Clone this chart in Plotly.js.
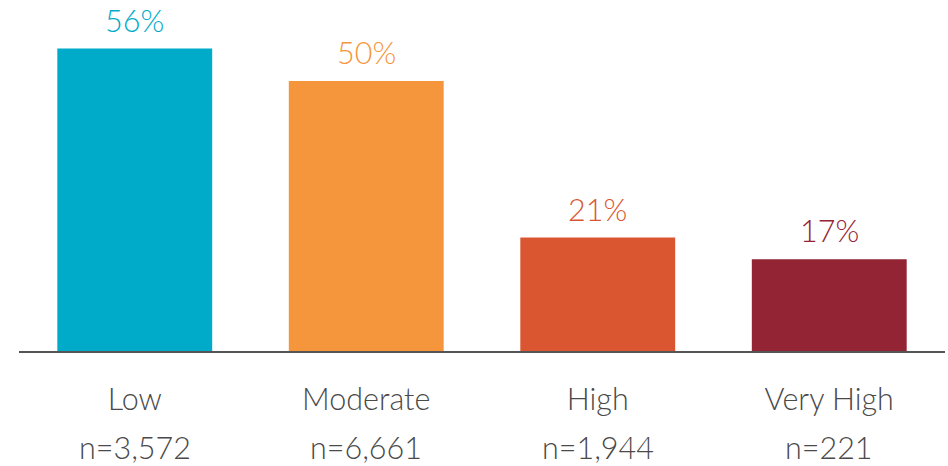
<!DOCTYPE html>
<html>
<head>
<meta charset="utf-8">
<script src="https://cdn.plot.ly/plotly-3.0.1.min.js"></script>
<style>html,body{margin:0;padding:0;background:#fff;}#chart{width:948px;height:466px;}</style>
</head>
<body>
<div id="chart"></div>
<script>
const categories = ["Low", "Moderate", "High", "Very High"];
const values = [56, 50, 21, 17];
const counts = ["n=3,572", "n=6,661", "n=1,944", "n=221"];
const colors = ["#00ABC9", "#F5963D", "#DA5631", "#922433"];

const FONT = "Lato, 'Open Sans', sans-serif";

const trace = {
  type: "bar",
  x: categories,
  y: values,
  marker: { color: colors },
  hoverinfo: "skip"
};

const annotations = [];
categories.forEach((c, i) => {
  annotations.push({
    x: c, y: values[i], xref: "x", yref: "y",
    text: values[i] + "%",
    showarrow: false, yanchor: "bottom", yshift: 9,
    font: { family: FONT, size: 30.5, color: colors[i], weight: 300 }
  });
  annotations.push({
    x: c, y: 0, xref: "x", yref: "y",
    text: counts[i],
    showarrow: false, yanchor: "middle", yshift: -96,
    font: { family: FONT, size: 30.5, color: "#4a4a4a", weight: 300 }
  });
});

const layout = {
  width: 948, height: 466,
  margin: { l: 19, r: 3, t: 10, b: 115 },
  paper_bgcolor: "#fff", plot_bgcolor: "#fff",
  bargap: 0.331,
  showlegend: false,
  xaxis: {
    type: "category",
    range: [-0.5, 3.5],
    showgrid: false, zeroline: false,
    showline: true, linecolor: "#555", linewidth: 1.5,
    ticks: "", ticklabelstandoff: 21,
    tickfont: { family: FONT, size: 30.5, color: "#4a4a4a", weight: 300 }
  },
  yaxis: {
    range: [0, 63.15],
    showgrid: false, zeroline: false, showline: false,
    showticklabels: false, ticks: ""
  },
  annotations: annotations
};

Plotly.newPlot("chart", [trace], layout, { displayModeBar: false, staticPlot: true });
</script>
</body>
</html>
